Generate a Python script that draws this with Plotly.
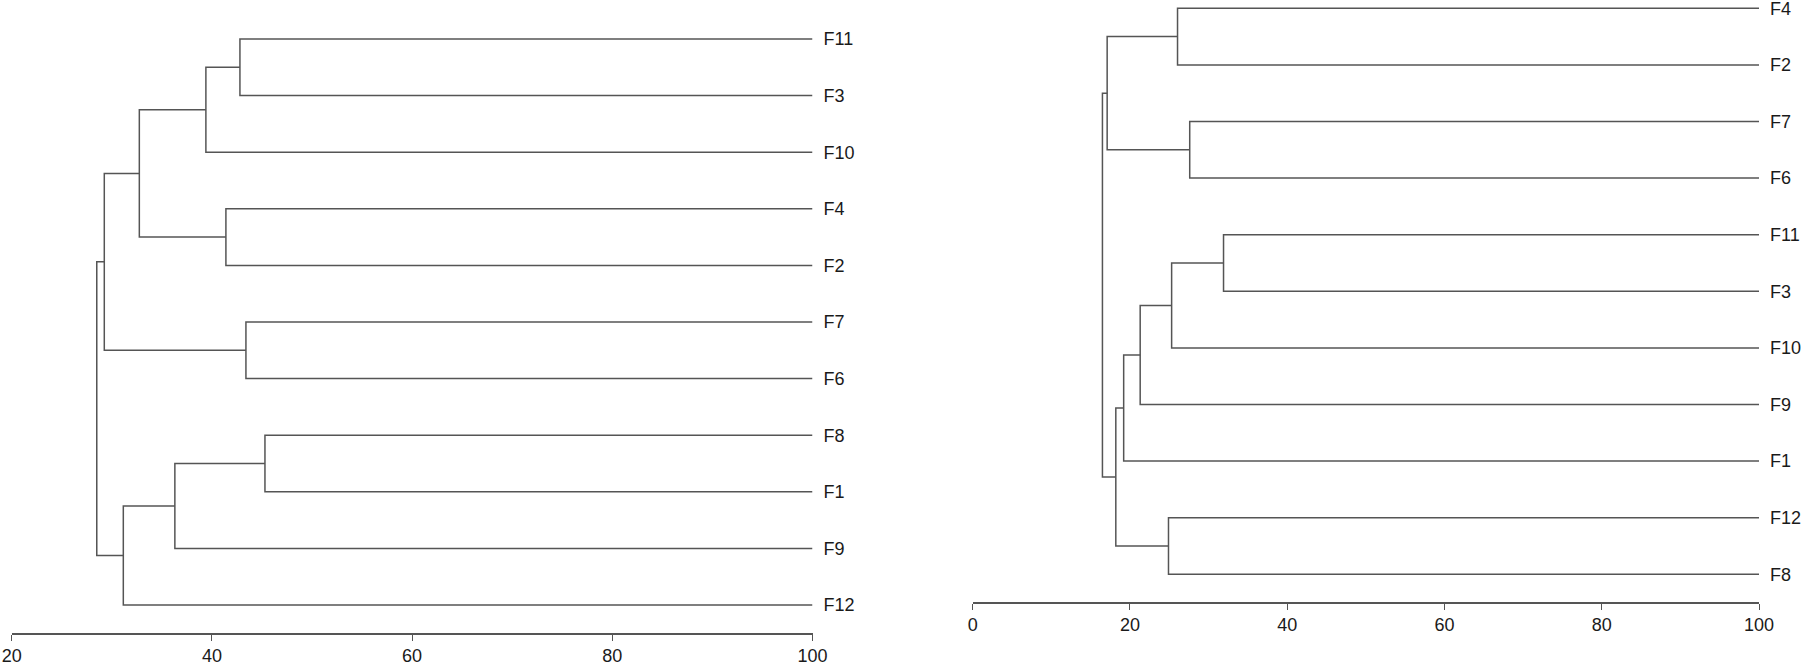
import plotly.graph_objects as go

# ---- data: left dendrogram ----
left_leaves = ["F11", "F3", "F10", "F4", "F2", "F7", "F6", "F8", "F1", "F9", "F12"]
# merges: (name, child_a, child_b, height)
left_merges = [
    ("A", "F11", "F3", 42.8),
    ("B", "A", "F10", 39.4),
    ("C", "F4", "F2", 41.4),
    ("D", "B", "C", 32.75),
    ("E", "F7", "F6", 43.4),
    ("G", "D", "E", 29.25),
    ("H", "F8", "F1", 45.3),
    ("I", "H", "F9", 36.3),
    ("J", "I", "F12", 31.15),
    ("R", "G", "J", 28.5),
]
left_ticks = [20, 40, 60, 80, 100]

# ---- data: right dendrogram ----
right_leaves = ["F4", "F2", "F7", "F6", "F11", "F3", "F10", "F9", "F1", "F12", "F8"]
right_merges = [
    ("A", "F4", "F2", 26.05),
    ("B", "F7", "F6", 27.6),
    ("C", "A", "B", 17.1),
    ("D", "F11", "F3", 31.9),
    ("E", "D", "F10", 25.3),
    ("G", "E", "F9", 21.3),
    ("H", "G", "F1", 19.2),
    ("I", "F12", "F8", 24.9),
    ("J", "H", "I", 18.2),
    ("R", "C", "J", 16.5),
]
right_ticks = [0, 20, 40, 60, 80, 100]

LEAF_X = 100
LINE_COLOR = "#555555"
TEXT_COLOR = "#1a1a1a"
FONT = "Liberation Sans, Arial, sans-serif"


def dendro_path(leaves, merges):
    pos = {name: (LEAF_X, i) for i, name in enumerate(leaves)}
    xs, ys = [], []
    for name, a, b, h in merges:
        xa, ya = pos[a]
        xb, yb = pos[b]
        xs += [xa, h, h, xb, None]
        ys += [ya, ya, yb, yb, None]
        pos[name] = (h, (ya + yb) / 2)
    return xs, ys


W, H = 1801, 665

# pixel layout
L_X0, L_X1 = 11.7, 812.5
R_X0, R_X1 = 972.7, 1759.0
L_AXIS_Y, L_LEAF0, STEP = 633.3, 39.0, 56.6
R_AXIS_Y, R_LEAF0 = 602.3, 8.3

fig = go.Figure()

lx, ly = dendro_path(left_leaves, left_merges)
rx, ry = dendro_path(right_leaves, right_merges)

line = dict(color=LINE_COLOR, width=1.5)
fig.add_trace(go.Scatter(x=lx, y=ly, mode="lines", line=line, xaxis="x", yaxis="y",
                         hoverinfo="skip", showlegend=False, cliponaxis=False))
fig.add_trace(go.Scatter(x=rx, y=ry, mode="lines", line=line, xaxis="x2", yaxis="y2",
                         hoverinfo="skip", showlegend=False, cliponaxis=False))


def yrange(leaf0, axis_y):
    bottom = (axis_y - leaf0) / STEP
    top = -leaf0 / STEP
    return [bottom, top]


xcommon = dict(showgrid=False, zeroline=False, showline=True, linecolor=LINE_COLOR,
               linewidth=1.7, ticks="outside", ticklen=6, tickwidth=1.2,
               tickcolor=LINE_COLOR, tickfont=dict(family=FONT, size=18, color=TEXT_COLOR),
               ticklabelstandoff=-1, ticklabeloverflow="allow",
               fixedrange=True, automargin=False)
xinner = dict(showgrid=False, zeroline=False, showline=False, ticks="inside", ticklen=6,
              tickwidth=1.2, tickcolor=LINE_COLOR, showticklabels=False, fixedrange=True,
              automargin=False)
ycommon = dict(showgrid=False, zeroline=False, showline=False, ticks="", side="right",
               tickfont=dict(family=FONT, size=18, color=TEXT_COLOR),
               ticklabelstandoff=10, ticklabeloverflow="allow",
               fixedrange=True, automargin=False)

fig.update_layout(
    width=W, height=H,
    margin=dict(l=0, r=0, t=0, b=0, pad=0, autoexpand=False),
    paper_bgcolor="white", plot_bgcolor="white",
    showlegend=False,
    xaxis=dict(domain=[L_X0 / W, L_X1 / W], range=[20, 100], anchor="y",
               tickvals=left_ticks, ticktext=[str(t) for t in left_ticks], **xcommon),
    xaxis3=dict(domain=[L_X0 / W, L_X1 / W], range=[20, 100], anchor="y", overlaying="x",
                tickvals=left_ticks, **xinner),
    yaxis=dict(domain=[1 - L_AXIS_Y / H, 1], range=yrange(L_LEAF0, L_AXIS_Y), anchor="x",
               tickvals=list(range(len(left_leaves))), ticktext=left_leaves, **ycommon),
    xaxis2=dict(domain=[R_X0 / W, R_X1 / W], range=[0, 100], anchor="y2",
                tickvals=right_ticks, ticktext=[str(t) for t in right_ticks], **xcommon),
    xaxis4=dict(domain=[R_X0 / W, R_X1 / W], range=[0, 100], anchor="y2", overlaying="x2",
                tickvals=right_ticks, **xinner),
    yaxis2=dict(domain=[1 - R_AXIS_Y / H, 1], range=yrange(R_LEAF0, R_AXIS_Y), anchor="x2",
                tickvals=list(range(len(right_leaves))), ticktext=right_leaves, **ycommon),
)

fig.write_html(
    "out.html",
    config={"displayModeBar": False},
    post_script="document.body.style.margin='0';document.body.style.overflow='hidden';",
)
